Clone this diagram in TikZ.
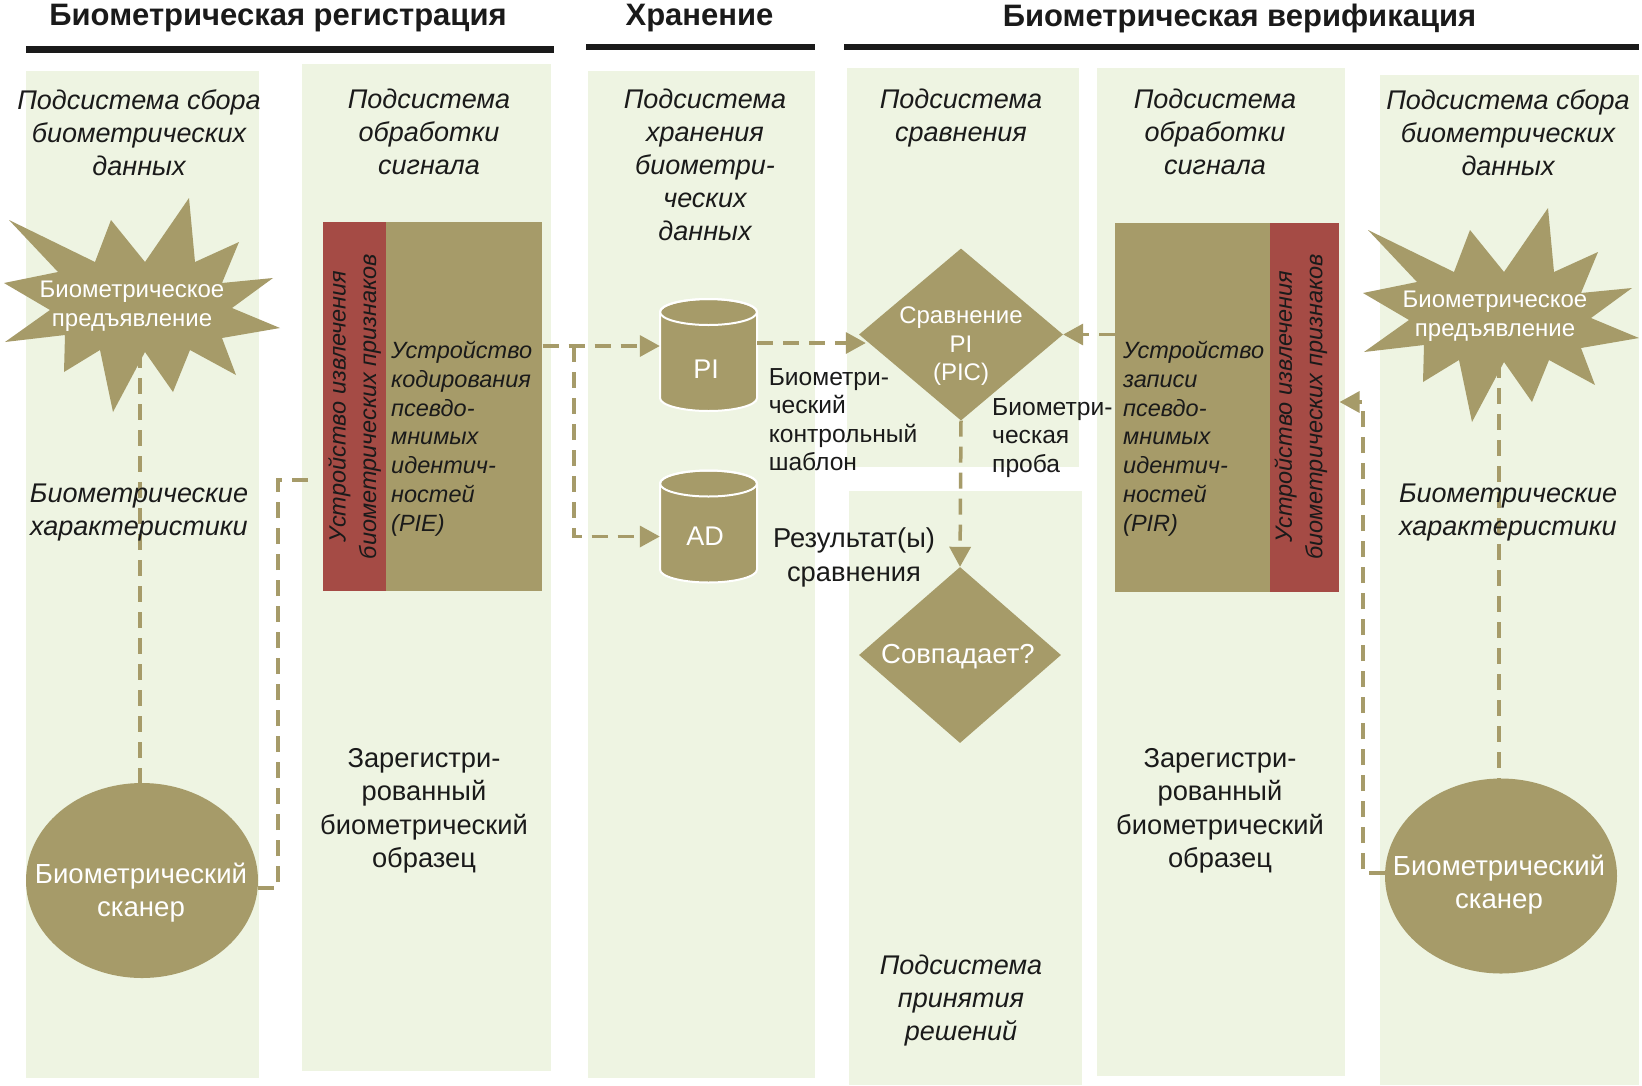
\documentclass[tikz,border=0pt]{standalone}
\usepackage{fontspec}
\setmainfont{Liberation Sans}
\usetikzlibrary{arrows.meta, positioning, shapes.geometric}

\definecolor{lanegreen}{HTML}{EEF4E2}
\definecolor{khaki}{HTML}{A69B69}
\definecolor{brick}{HTML}{A54B45}
\definecolor{ink}{HTML}{1A1A1A}

\tikzset{
  lane/.style={fill=lanegreen},
  hdr/.style={font=\fontsize{31}{34}\selectfont\bfseries, text=ink, inner sep=0, anchor=north},
  ttl/.style={font=\fontsize{27}{33}\selectfont\itshape, text=ink, align=center, inner sep=0, anchor=north},
  itx/.style={font=\fontsize{23.5}{28.8}\selectfont\itshape, text=ink, align=left, inner sep=0, anchor=north west},
  txt/.style={font=\fontsize{27.3}{33.5}\selectfont, text=ink, align=center, inner sep=0, anchor=north},
  lbl/.style={font=\fontsize{24.6}{28.5}\selectfont, text=ink, align=left, inner sep=0, anchor=north west},
  wtx/.style={font=\fontsize{24}{28.5}\selectfont, text=white, align=center, inner sep=0, anchor=north},
  scanner/.style={ellipse, fill=khaki, minimum width=232, minimum height=195, inner sep=0},
  decision/.style={diamond, fill=khaki, inner sep=0},
  store/.style={rectangle, minimum width=97, minimum height=112, inner sep=0},
  block/.style={rectangle, inner sep=0, minimum height=369},
  flow/.style={khaki, line width=3.5, dash pattern=on 16pt off 10pt},
  flowto/.style={flow, -{Triangle[length=20pt, width=21pt]}},
  burst/.pic={
    \fill[khaki] (49,-107) -- (55,-43) -- (99,-63) -- (82,-22) -- (133,-27) -- (92,3)
      -- (140,23) -- (82,33) -- (96,70) -- (50,45) -- (33,87) -- (5,47) -- (-27,107)
      -- (-40,45) -- (-76,67) -- (-75,30) -- (-135,37) -- (-90,5) -- (-136,-22)
      -- (-82,-33) -- (-131,-85) -- (-45,-43) -- (-29,-85) -- (5,-43) -- cycle;
  },
  drum/.pic={
    \fill[khaki, draw=white, line width=2] (-48.5,-43) -- (-48.5,43)
      arc[start angle=180, end angle=0, x radius=48.5, y radius=13]
      -- (48.5,-43) arc[start angle=0, end angle=-180, x radius=48.5, y radius=13] -- cycle;
    \draw[white, line width=2] (0,-43) ellipse[x radius=48.5, y radius=13];
  },
}

\begin{document}
\begin{tikzpicture}[x=1pt, y=-1pt, >=latex]
    \useasboundingbox (0,0) rectangle (1642,1085);
    \fill[white] (0,0) rectangle (1642,1085);

    % 1. Дорожки подсистем
    \foreach \xa/\ya/\xb/\yb in {26/71/259/1078, 302/64/551/1071, 588/71/815/1078,
        847/68/1079/467, 849/491/1082/1085, 1097/68/1345/1076, 1380/75/1639/1085} {
        \fill[lane] (\xa,\ya) rectangle (\xb,\yb);
    }

    % 2. Заголовки этапов
    \fill[ink] (26,46) rectangle (554,52.6);
    \fill[ink] (586,44) rectangle (815,50);
    \fill[ink] (844,44) rectangle (1639,50);
    \node[hdr] (hreg) at (278,3.5) {Биометрическая регистрация};
    \node[hdr] (hstore) at (699.5,3.5) {Хранение};
    \node[hdr] (hver) at (1239.5,3.5) {Биометрическая верификация};

    % 3. Предъявление и сканеры
    \pic at (140,305) {burst};
    \pic at (1499,315) {burst};
    \coordinate (burstL) at (140,352);
    \coordinate (burstR) at (1499,362);
    \node[scanner] (scanL) at (142,880.5) {};
    \node[scanner] (scanR) at (1501,876) {};

    % 4. Блоки обработки сигнала
    \node[block, fill=brick, minimum width=63] (extrL) at (354.5,406.5) {};
    \node[block, fill=khaki, minimum width=156, right=0 of extrL] (encL) {};
    \node[block, fill=khaki, minimum width=155] (encR) at (1192.5,407) {};
    \node[block, fill=brick, minimum width=69, right=0 of encR] (extrR) {};

    % 5. Хранилища и решения
    \node[store] (PI) at (708.5,355) {};
    \node[store] (AD) at (708.5,526.5) {};
    \pic at (PI) {drum};
    \pic at (AD) {drum};
    \node[decision, minimum width=204, minimum height=172] (cmp) at (961,334.5) {};
    \node[decision, minimum width=202, minimum height=176] (match) at (960,655) {};

    % 6. Потоки данных
    \coordinate (tapL) at (574,346);
    \draw[flowto] (tapL -| encL.east) -- (tapL -| PI.west);
    \draw[flowto] (tapL) |- ([yshift=-10]AD.west);
    \draw[flowto] ([yshift=12]PI.east) -- ([yshift=12, xshift=7]PI.east -| cmp.west);
    \draw[flowto] (encR.west |- cmp.east) -- (cmp.east);
    \draw[flowto] (cmp.south) -- (match.north);
    \draw[flow] (burstL) -- (burstL |- scanL.north);
    \draw[flow] (burstR) -- (burstR |- scanR.north);
    \draw[flow, shorten >=7pt] ([yshift=-7.5]scanL.east) -- ++(20,0) |- ([yshift=-73.5]extrL.west);
    \draw[flowto] ([yshift=3]scanR.west) -- ++(-22,0) |- ([yshift=5]extrR.east);

    % 7. Подписи дорожек
    \node[ttl] (t1) at (139,89) {Подсистема сбора\\биометрических\\данных};
    \node[ttl] (t2) at (429,89) {Подсистема\\обработки\\сигнала};
    \node[ttl] (t3) at (705,89) {Подсистема\\хранения\\биометри-\\ческих\\данных};
    \node[ttl] (t4) at (961,89) {Подсистема\\сравнения};
    \node[ttl] (t5) at (1215,89) {Подсистема\\обработки\\сигнала};
    \node[ttl] (t6) at (1508,89) {Подсистема сбора\\биометрических\\данных};
    \node[ttl] (t7) at (961,955) {Подсистема\\принятия\\решений};
    \node[ttl] (charL) at (139,484) {Биометрические\\характеристики};
    \node[ttl] (charR) at (1508,484) {Биометрические\\характеристики};

    % 8. Тексты в фигурах
    \node[wtx] (burstLtxt) at (132,281) {Биометрическое\\предъявление};
    \node[wtx] (burstRtxt) at (1495,291) {Биометрическое\\предъявление};
    \node[wtx, font=\fontsize{27.6}{33}\selectfont] (scanLtxt) at (141,863) {Биометрический\\сканер};
    \node[wtx, font=\fontsize{27.6}{33}\selectfont] (scanRtxt) at (1499,855) {Биометрический\\сканер};
    \node[wtx, font=\fontsize{27}{33}\selectfont] (PItxt) at (706,360) {PI};
    \node[wtx, font=\fontsize{27}{33}\selectfont] (ADtxt) at (705,527) {AD};
    \node[wtx, font=\fontsize{24}{28.3}\selectfont] (cmptxt) at (961,307) {Сравнение\\PI\\(PIC)};
    \node[wtx, font=\fontsize{27.5}{33}\selectfont] (matchtxt) at (958,644) {Совпадает?};
    \node[itx] (encLtxt) at (391,341) {Устройство\\кодирования\\псевдо-\\мнимых\\идентич-\\ностей\\(PIE)};
    \node[itx] (encRtxt) at (1123,341) {Устройство\\записи\\псевдо-\\мнимых\\идентич-\\ностей\\(PIR)};
    \node[itx, anchor=center, align=center, rotate=90, font=\fontsize{23.5}{30.5}\selectfont\itshape]
        (extrLtxt) at (extrL.center) {Устройство извлечения\\биометрических признаков};
    \node[itx, anchor=center, align=center, rotate=90, font=\fontsize{23.5}{30.5}\selectfont\itshape]
        (extrRtxt) at ([xshift=-4]extrR.center) {Устройство извлечения\\биометрических признаков};

    % 9. Пояснения
    \node[lbl] (tmpl) at (768.6,368) {Биометри-\\ческий\\контрольный\\шаблон};
    \node[lbl] (probe) at (992,398) {Биометри-\\ческая\\проба};
    \node[txt] (res) at (854,528) {Результат(ы)\\сравнения};
    \node[txt] (enrL) at (424,748) {Зарегистри-\\рованный\\биометрический\\образец};
    \node[txt] (enrR) at (1220,748) {Зарегистри-\\рованный\\биометрический\\образец};
\end{tikzpicture}
\end{document}
